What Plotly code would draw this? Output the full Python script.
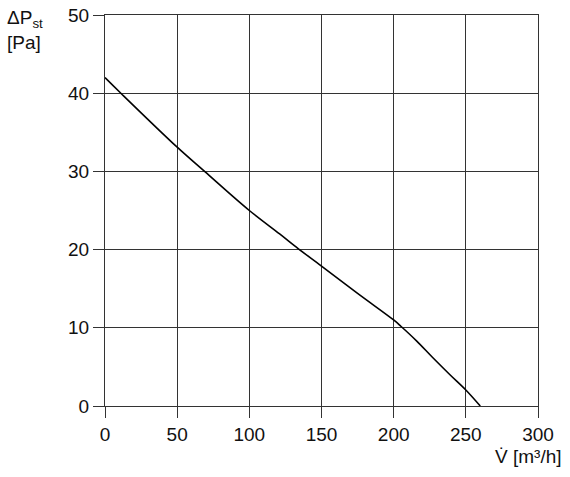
import plotly.graph_objects as go

# Fan curve: volume flow [m³/h] vs static pressure [Pa]
flow = [0, 11, 50, 69, 100, 121, 134, 150, 175, 200, 205, 216, 227, 239, 250, 260]
pressure = [42, 40, 33.1, 30, 25, 22.0, 20.1, 17.9, 14.4, 11, 10.2, 8.3, 6.2, 4.0, 2.05, 0]

x_ticks = [0, 50, 100, 150, 200, 250, 300]
y_ticks = [0, 10, 20, 30, 40, 50]

grid_color = "#333333"
font = dict(family="Liberation Sans, Arial, sans-serif", size=19, color="#111111")

fig = go.Figure()
fig.add_trace(go.Scatter(
    x=flow, y=pressure, mode="lines",
    line=dict(color="black", width=1.6, shape="spline", smoothing=1.0),
    showlegend=False, hoverinfo="skip",
))

axis_common = dict(
    showgrid=True, gridcolor=grid_color, gridwidth=1.3,
    showline=True, linecolor=grid_color, linewidth=1.3, mirror=True,
    ticks="outside", ticklen=11, tickwidth=1.3, tickcolor=grid_color,
    zeroline=False, tickfont=font, fixedrange=True, automargin=False,
)

fig.update_xaxes(range=[0, 300], tickvals=x_ticks, ticktext=[str(v) for v in x_ticks], **axis_common)
fig.update_yaxes(range=[0, 50], tickvals=y_ticks, ticktext=[str(v) for v in y_ticks], **axis_common)

fig.update_layout(
    width=570, height=477,
    margin=dict(l=105, r=32, t=15, b=71, pad=0, autoexpand=False),
    paper_bgcolor="white", plot_bgcolor="white",
    font=font,
    annotations=[
        dict(text="ΔP<sub>st</sub><br>[Pa]", xref="paper", yref="paper",
             x=-0.23, y=0.962, xanchor="left", yanchor="middle",
             align="left", showarrow=False, font=font),
        dict(text="V̇ [m³/h]", xref="paper", yref="paper",
             x=1.06, y=-0.13, xanchor="right", yanchor="middle",
             showarrow=False, font=font),
    ],
)

fig.write_html(
    "out.html",
    config={"displayModeBar": False},
    post_script="document.body.style.margin='0';document.body.style.overflow='hidden';",
)
